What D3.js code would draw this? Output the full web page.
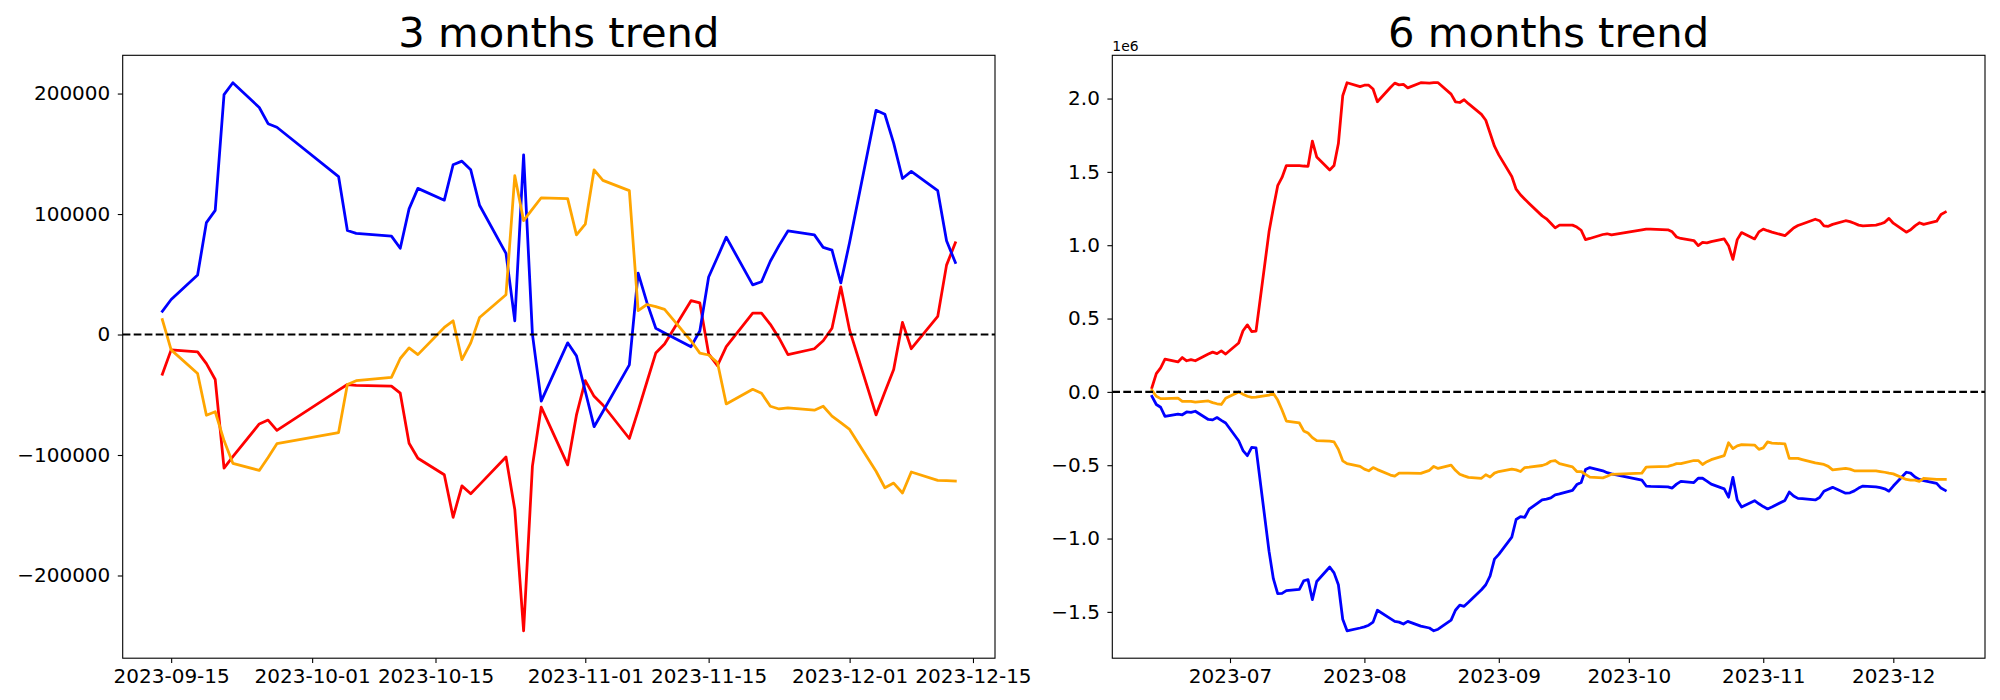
<!DOCTYPE html>
<html lang="en">

<head>
    <meta charset="UTF-8">
    <style type="text/css">
        body { margin: 0; background: #ffffff; }
        svg text { font-family: "DejaVu Sans", sans-serif; fill: black; }
        .frame { fill: none; stroke: black; stroke-width: 1.1px; }
    </style>
</head>

<body>
    <div id="chart"></div>
    <script src="https://cdn.jsdelivr.net/npm/d3@7"></script>
    <script type="text/javascript">

        // ---------- 3 months data (trading days) ----------
        var dates3m = [
            "2023-09-14", "2023-09-15", "2023-09-18", "2023-09-19", "2023-09-20", "2023-09-21", "2023-09-22", "2023-09-25", "2023-09-26", "2023-09-27",
            "2023-10-04", "2023-10-05", "2023-10-06", "2023-10-10", "2023-10-11", "2023-10-12", "2023-10-13", "2023-10-16", "2023-10-17", "2023-10-18",
            "2023-10-19", "2023-10-20", "2023-10-23", "2023-10-24", "2023-10-25", "2023-10-26", "2023-10-27", "2023-10-30", "2023-10-31",
            "2023-11-01", "2023-11-02", "2023-11-03", "2023-11-06", "2023-11-07", "2023-11-08", "2023-11-09", "2023-11-10", "2023-11-13", "2023-11-14",
            "2023-11-15", "2023-11-16", "2023-11-17", "2023-11-20", "2023-11-21", "2023-11-22", "2023-11-23", "2023-11-24", "2023-11-27", "2023-11-28",
            "2023-11-29", "2023-11-30",
            "2023-12-01", "2023-12-04", "2023-12-05", "2023-12-06", "2023-12-07", "2023-12-08", "2023-12-11", "2023-12-12", "2023-12-13"];

        var red3m = [
            -33000, -12750, -14400, -24200, -37300, -110900, -101400, -74200, -71000, -79500,
            -46100, -41500, -42200, -42800, -48700, -90300, -102700, -116400, -151700, -125600,
            -132100, -124600, -101700, -145200, -245900, -109200, -60200, -108200, -66700,
            -38300, -51300, -58500, -86300, -63200, -39200, -15400, -7800, 28100, 26200,
            -16000, -25800, -10100, 17700, 17700, 8500, -3000, -16700, -11800, -5200,
            5200, 39600,
            3600, -66700, -47800, -29100, 10100, -11800, 15000, 57600, 76200];

        var blue3m = [
            19300, 29100, 49400, 92900, 103000, 199100, 209000, 188400, 175000, 172000,
            131100, 86300, 84000, 81700, 71600, 104300, 121300, 111500, 140900, 143900,
            136700, 107300, 67400, 11400, 149100, 300, -55300, -6900, -17700,
            -47100, -76500, -63900, -25200, 51000, 26500, 5200, 1300, -10100, 2900,
            47700, 64100, 80800, 41200, 43800, 60800, 74000, 86000, 82700, 72300,
            70000, 42800,
            76600, 186100, 182800, 158900, 129500, 135400, 119400, 77800, 59800];

        var orange3m = [
            12400, -12750, -32400, -67000, -64100, -88000, -106900, -112800, -102000, -90600,
            -81400, -41500, -38300, -35600, -19900, -11100, -16700, 5900, 11400, -20900,
            -6900, 14100, 33000, 131800, 94500, 104000, 113500, 112800, 82700,
            91600, 136700, 127900, 119400, 19900, 24900, 23200, 20900, -5200, -15400,
            -17000, -23200, -57600, -45500, -48700, -59500, -61800, -60800, -62800, -59500,
            -67700, -73200,
            -78800, -113500, -127200, -123300, -131500, -114100, -121000, -121300, -121600];

        var xTicks3m = ["2023-09-15", "2023-10-01", "2023-10-15", "2023-11-01", "2023-11-15", "2023-12-01", "2023-12-15"];
        var yTicks3m = [-200000, -100000, 0, 100000, 200000];

        // ---------- 6 months data (values in 1e6) ----------
        var dates6m = [
            "2023-06-13", "2023-06-14", "2023-06-15", "2023-06-16", "2023-06-19", "2023-06-20", "2023-06-21", "2023-06-22", "2023-06-23",
            "2023-06-26", "2023-06-27", "2023-06-28", "2023-06-29", "2023-06-30",
            "2023-07-03", "2023-07-04", "2023-07-05", "2023-07-06", "2023-07-07", "2023-07-10", "2023-07-11", "2023-07-12", "2023-07-13",
            "2023-07-14", "2023-07-17", "2023-07-18", "2023-07-19", "2023-07-20", "2023-07-21", "2023-07-24", "2023-07-25", "2023-07-26",
            "2023-07-27", "2023-07-28", "2023-07-31",
            "2023-08-01", "2023-08-02", "2023-08-03", "2023-08-04", "2023-08-07", "2023-08-08", "2023-08-09", "2023-08-10", "2023-08-11",
            "2023-08-14", "2023-08-16", "2023-08-17", "2023-08-18", "2023-08-21", "2023-08-22", "2023-08-23", "2023-08-24", "2023-08-25",
            "2023-08-28", "2023-08-29", "2023-08-30", "2023-08-31",
            "2023-09-01", "2023-09-04", "2023-09-05", "2023-09-06", "2023-09-07", "2023-09-08", "2023-09-11", "2023-09-12", "2023-09-13",
            "2023-09-14", "2023-09-15", "2023-09-18", "2023-09-19", "2023-09-20", "2023-09-21", "2023-09-22", "2023-09-25", "2023-09-26",
            "2023-09-27",
            "2023-10-04", "2023-10-05", "2023-10-06", "2023-10-10", "2023-10-11", "2023-10-12", "2023-10-13", "2023-10-16", "2023-10-17",
            "2023-10-18", "2023-10-19", "2023-10-20", "2023-10-23", "2023-10-24", "2023-10-25", "2023-10-26", "2023-10-27", "2023-10-30",
            "2023-10-31",
            "2023-11-01", "2023-11-02", "2023-11-03", "2023-11-06", "2023-11-07", "2023-11-08", "2023-11-09", "2023-11-10", "2023-11-13",
            "2023-11-14", "2023-11-15", "2023-11-16", "2023-11-17", "2023-11-20", "2023-11-21", "2023-11-22", "2023-11-23", "2023-11-24",
            "2023-11-27", "2023-11-28", "2023-11-29", "2023-11-30",
            "2023-12-01", "2023-12-04", "2023-12-05", "2023-12-06", "2023-12-07", "2023-12-08", "2023-12-11", "2023-12-12", "2023-12-13"];

        var red6m = [
            0.030, 0.124, 0.164, 0.223, 0.204, 0.234, 0.212, 0.220, 0.212, 0.258, 0.271, 0.261, 0.280, 0.258,
            0.333, 0.417, 0.457, 0.411, 0.414, 1.091, 1.253, 1.406, 1.462, 1.543, 1.543, 1.540, 1.538, 1.710, 1.602, 1.513, 1.543, 1.693, 2.019, 2.108, 2.081,
            2.091, 2.091, 2.065, 1.978, 2.075, 2.105, 2.093, 2.096, 2.073, 2.108, 2.105, 2.108, 2.108, 2.030, 1.978, 1.973, 1.992, 1.965, 1.892, 1.852, 1.763, 1.675,
            1.616, 1.468, 1.382, 1.344, 1.314, 1.285, 1.200, 1.180, 1.150, 1.118, 1.137, 1.137, 1.124, 1.102, 1.038, 1.046, 1.073, 1.078, 1.070,
            1.105, 1.110, 1.110, 1.105, 1.091, 1.056, 1.046, 1.032, 0.997, 1.019, 1.016, 1.024, 1.043, 0.997, 0.903, 1.038, 1.086, 1.043, 1.091,
            1.110, 1.099, 1.089, 1.065, 1.091, 1.118, 1.134, 1.145, 1.177, 1.167, 1.132, 1.129, 1.142, 1.167, 1.161, 1.150, 1.137, 1.132, 1.137, 1.145, 1.156, 1.183,
            1.150, 1.089, 1.105, 1.132, 1.153, 1.142, 1.164, 1.210, 1.226];

        var blue6m = [
            -0.030, -0.086, -0.105, -0.167, -0.151, -0.156, -0.137, -0.140, -0.132, -0.188, -0.191, -0.175, -0.194, -0.212,
            -0.333, -0.400, -0.435, -0.379, -0.382, -1.086, -1.274, -1.376, -1.374, -1.355, -1.347, -1.288, -1.280, -1.417, -1.293, -1.194, -1.234, -1.315, -1.550, -1.629, -1.610,
            -1.602, -1.591, -1.570, -1.489, -1.546, -1.565, -1.570, -1.583, -1.565, -1.597, -1.610, -1.629, -1.618, -1.556, -1.489, -1.454, -1.462, -1.435, -1.349, -1.315, -1.255, -1.140,
            -1.108, -0.990, -0.870, -0.850, -0.855, -0.800, -0.737, -0.731, -0.723, -0.702, -0.696, -0.672, -0.632, -0.618, -0.530, -0.516, -0.538, -0.551, -0.559,
            -0.602, -0.642, -0.645, -0.648, -0.656, -0.629, -0.610, -0.618, -0.589, -0.589, -0.608, -0.629, -0.661, -0.718, -0.583, -0.737, -0.785, -0.742, -0.763,
            -0.782, -0.798, -0.785, -0.740, -0.683, -0.710, -0.726, -0.728, -0.737, -0.720, -0.677, -0.664, -0.651, -0.691, -0.688, -0.675, -0.656, -0.642, -0.648, -0.653, -0.661, -0.677,
            -0.642, -0.548, -0.554, -0.581, -0.597, -0.605, -0.624, -0.656, -0.672];

        var orange6m = [
            0.011, -0.030, -0.046, -0.046, -0.043, -0.065, -0.065, -0.065, -0.070, -0.062, -0.073, -0.081, -0.086, -0.043,
            0.000, -0.016, -0.030, -0.038, -0.035, -0.022, -0.011, -0.056, -0.124, -0.199, -0.212, -0.266, -0.280, -0.312, -0.333, -0.336, -0.341, -0.392, -0.470, -0.489, -0.508,
            -0.527, -0.538, -0.516, -0.530, -0.567, -0.575, -0.554, -0.554, -0.554, -0.556, -0.535, -0.508, -0.522, -0.500, -0.535, -0.562, -0.573, -0.583, -0.589, -0.565, -0.581, -0.554,
            -0.543, -0.527, -0.532, -0.543, -0.516, -0.513, -0.502, -0.492, -0.473, -0.468, -0.489, -0.511, -0.543, -0.543, -0.562, -0.581, -0.586, -0.575, -0.562,
            -0.554, -0.513, -0.511, -0.508, -0.500, -0.489, -0.489, -0.468, -0.468, -0.495, -0.476, -0.462, -0.435, -0.347, -0.387, -0.368, -0.360, -0.363, -0.392,
            -0.382, -0.341, -0.349, -0.355, -0.454, -0.454, -0.454, -0.462, -0.484, -0.489, -0.495, -0.508, -0.532, -0.522, -0.527, -0.538, -0.538, -0.538, -0.538, -0.543, -0.548, -0.554,
            -0.559, -0.597, -0.602, -0.602, -0.610, -0.589, -0.597, -0.597, -0.597];

        var xTicks6m = ["2023-07-01", "2023-08-01", "2023-09-01", "2023-10-01", "2023-11-01", "2023-12-01"];
        var yTicks6m = [-1.5, -1.0, -0.5, 0.0, 0.5, 1.0, 1.5, 2.0];

        // ---------- layout ----------
        var width = 2000, height = 700;
        var plotTop = 55.3, plotBottom = 658.2;
        var lineWidth = 2.78,
            zeroWidth = 2.1;

        var parseDate = d3.timeParse("%Y-%m-%d");

        var svg = d3.select("#chart")
            .append("svg")
            .attr("width", width)
            .attr("height", height);

        function drawPanel(p) {
            var dates = p.dates.map(parseDate);
            var allValues = d3.merge(p.series.map(function (s) { return s.values; }));

            // matplotlib style 5% margins
            var xExt = d3.extent(dates);
            var xPad = (xExt[1] - xExt[0]) * 0.05;
            var yExt = d3.extent(allValues);
            var yPad = (yExt[1] - yExt[0]) * 0.05;

            var x = d3.scaleTime()
                .domain([new Date(+xExt[0] - xPad), new Date(+xExt[1] + xPad)])
                .range([p.left, p.right]);

            var y = d3.scaleLinear()
                .domain([yExt[0] - yPad, yExt[1] + yPad])
                .range([plotBottom, plotTop]);

            var g = svg.append("g");

            var line = d3.line()
                .x(function (d) { return x(d[0]); })
                .y(function (d) { return y(d[1]); });

            p.series.forEach(function (s) {
                g.append("path")
                    .datum(dates.map(function (d, i) { return [d, s.values[i]]; }))
                    .attr("d", line)
                    .attr("fill", "none")
                    .attr("stroke", s.color)
                    .attr("stroke-width", lineWidth)
                    .attr("stroke-linejoin", "round")
                    .attr("stroke-linecap", "square");
            });

            // zero line
            g.append("line")
                .attr("x1", p.left)
                .attr("x2", p.right)
                .attr("y1", y(0))
                .attr("y2", y(0))
                .attr("stroke", "black")
                .attr("stroke-width", zeroWidth)
                .attr("stroke-dasharray", "7.7,3.3");

            var xAxis = g.append("g")
                .attr("transform", "translate(0," + plotBottom + ")")
                .call(d3.axisBottom(x)
                    .tickValues(p.xTicks.map(parseDate))
                    .tickFormat(d3.timeFormat(p.xFormat))
                    .tickSize(4.9)
                    .tickPadding(6));

            var yAxis = g.append("g")
                .attr("transform", "translate(" + p.left + ",0)")
                .call(d3.axisLeft(y)
                    .tickValues(p.yTicks)
                    .tickFormat(d3.format(p.yFormat))
                    .tickSize(4.9)
                    .tickPadding(7.5));

            [xAxis, yAxis].forEach(function (a) {
                a.select(".domain").remove();
                a.selectAll(".tick line").attr("stroke", "black").attr("stroke-width", 1.1);
                a.selectAll(".tick text")
                    .style("font-family", "'DejaVu Sans', sans-serif")
                    .style("font-size", "20px")
                    .attr("fill", "black");
            });

            g.append("rect")
                .attr("class", "frame")
                .attr("x", p.left)
                .attr("y", plotTop)
                .attr("width", p.right - p.left)
                .attr("height", plotBottom - plotTop);

            g.append("text")
                .attr("x", (p.left + p.right) / 2)
                .attr("y", 46.5)
                .style("text-anchor", "middle")
                .style("font-size", "41.7px")
                .text(p.title);

            if (p.offsetText) {
                g.append("text")
                    .attr("x", p.left)
                    .attr("y", 51)
                    .style("font-size", "13.9px")
                    .text(p.offsetText);
            }
        }

        drawPanel({
            title: "3 months trend",
            left: 122.7, right: 995,
            dates: dates3m,
            series: [
                { values: red3m, color: "red" },
                { values: blue3m, color: "blue" },
                { values: orange3m, color: "orange" }
            ],
            xTicks: xTicks3m, xFormat: "%Y-%m-%d",
            yTicks: yTicks3m, yFormat: "d"
        });

        drawPanel({
            title: "6 months trend",
            left: 1112.3, right: 1985,
            dates: dates6m,
            series: [
                { values: red6m, color: "red" },
                { values: blue6m, color: "blue" },
                { values: orange6m, color: "orange" }
            ],
            xTicks: xTicks6m, xFormat: "%Y-%m",
            yTicks: yTicks6m, yFormat: ".1f",
            offsetText: "1e6"
        });
    </script>
</body>

</html>
